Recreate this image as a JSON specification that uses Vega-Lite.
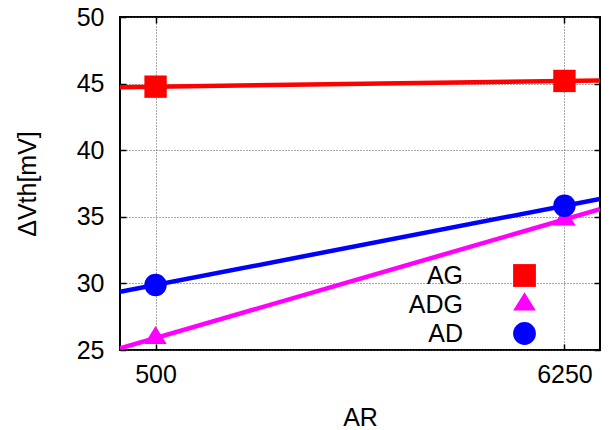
{
  "$schema": "https://vega.github.io/schema/vega-lite/v6.json",
  "width": 480,
  "height": 333,
  "autosize": {"type": "none"},
  "padding": {"left": 120, "top": 17, "right": 11, "bottom": 80},
  "background": "white",
  "config": {
    "font": "Liberation Sans",
    "view": {"stroke": "black", "strokeWidth": 2},
    "axis": {
      "labelFont": "Liberation Sans",
      "titleFont": "Liberation Sans",
      "labelFontSize": 25,
      "titleFontSize": 25,
      "labelColor": "black",
      "titleColor": "black",
      "titleFontWeight": "normal",
      "domain": false,
      "tickColor": "black",
      "tickSize": -6,
      "tickWidth": 1.5,
      "gridColor": "#555",
      "gridDash": [1, 2],
      "gridWidth": 1
    },
    "legend": {
      "orient": "none",
      "legendX": 392,
      "legendY": 246,
      "symbolSize": 520,
      "labelFontSize": 25,
      "labelFont": "Liberation Sans",
      "labelColor": "black",
      "labelAlign": "right",
      "labelOffset": -74,
      "rowPadding": 3,
      "fillColor": "white",
      "padding": 0,
      "symbolStrokeWidth": 0
    }
  },
  "data": {
    "values": [
      {"series": "AG", "AR": 500, "dVth": 44.77},
      {"series": "AG", "AR": 6250, "dVth": 45.2},
      {"series": "ADG", "AR": 500, "dVth": 25.9},
      {"series": "ADG", "AR": 6250, "dVth": 34.8},
      {"series": "AD", "AR": 500, "dVth": 29.88},
      {"series": "AD", "AR": 6250, "dVth": 35.83}
    ]
  },
  "layer": [
    {
      "transform": [
        {"regression": "dVth", "on": "AR", "groupby": ["series"], "extent": [0, 6750]}
      ],
      "mark": {"type": "line", "strokeWidth": 4.5, "clip": true},
      "encoding": {
        "x": {
          "field": "AR", "type": "quantitative",
          "scale": {"domain": [0, 6750], "nice": false, "zero": false},
          "axis": {"orient": "top", "values": [500, 6250], "labels": false, "title": null, "grid": false}
        },
        "y": {
          "field": "dVth", "type": "quantitative",
          "scale": {"domain": [25, 50], "nice": false, "zero": false},
          "axis": {"orient": "right", "values": [25, 30, 35, 40, 45, 50], "labels": false, "title": null, "grid": false}
        },
        "color": {
          "field": "series", "type": "nominal", "title": null,
          "scale": {"domain": ["AG", "ADG", "AD"], "range": ["#ff0000", "#ff00ff", "#0000ff"]}
        }
      }
    },
    {
      "mark": {"type": "point", "filled": true, "size": 500, "opacity": 1},
      "encoding": {
        "x": {
          "field": "AR", "type": "quantitative",
          "axis": {"orient": "bottom", "values": [500, 6250], "format": "d", "title": "AR", "grid": true, "labelPadding": 18, "titleBaseline": "alphabetic", "titleY": 75}
        },
        "y": {
          "field": "dVth", "type": "quantitative",
          "axis": {"orient": "left", "values": [25, 30, 35, 40, 45, 50], "title": "ΔVth[mV]", "grid": true, "labelPadding": 22, "titleX": -93, "titleY": 166.5, "titleBaseline": "middle"}
        },
        "color": {
          "field": "series", "type": "nominal", "title": null,
          "scale": {"domain": ["AG", "ADG", "AD"], "range": ["#ff0000", "#ff00ff", "#0000ff"]}
        },
        "shape": {
          "field": "series", "type": "nominal", "title": null,
          "scale": {"domain": ["AG", "ADG", "AD"], "range": ["square", "M-1,0.53L1,0.53L0,-1.07Z", "circle"]}
        }
      }
    }
  ],
  "resolve": {"axis": {"x": "independent", "y": "independent"}}
}
